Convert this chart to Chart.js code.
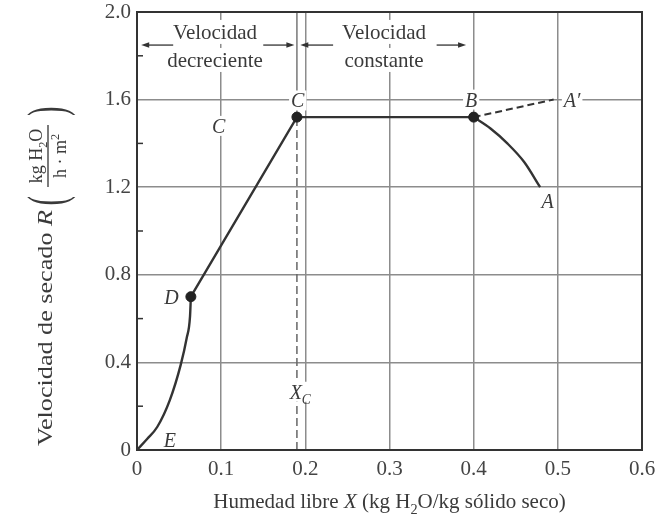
<!DOCTYPE html>
<html>
<head>
<meta charset="utf-8">
<script src="https://cdn.jsdelivr.net/npm/chart.js@4.4.1/dist/chart.umd.min.js"></script>
<style>
  html, body { margin: 0; padding: 0; background: #fff; }
  #wrap { width: 657px; height: 525px; }
</style>
</head>
<body>
<div id="wrap"><canvas id="chart" width="657" height="525"></canvas></div>
<script>
// valores
const xTicks = [0, 0.1, 0.2, 0.3, 0.4, 0.5, 0.6];
const yTicks = [0, 0.4, 0.8, 1.2, 1.6, 2.0];
const yMinor = [0.2, 0.6, 1.0, 1.4, 1.8];

// E -> D (curva, velocidad decreciente)
const curveEDx = [0, 0.012, 0.024, 0.039, 0.052, 0.059, 0.063, 0.064];
const curveEDy = [0, 0.05, 0.105, 0.228, 0.39, 0.51, 0.61, 0.70];
// D -> C -> B (rectas)
const lineDCBx = [0.064, 0.19, 0.40];
const lineDCBy = [0.70, 1.52, 1.52];
// B -> A (curva)
const curveBAx = [0.40, 0.42, 0.44, 0.46, 0.479];
const curveBAy = [1.52, 1.468, 1.40, 1.315, 1.20];
// B -> A' (discontinua)
const dashBAx = [0.40, 0.495];
const dashBAy = [1.52, 1.60];
// humedad critica
const xCritical = 0.19;
const rCritical = 1.52;
// puntos marcados C, B, D
const markX = [0.19, 0.40, 0.064];
const markY = [1.52, 1.52, 0.70];

const SERIF = '"Liberation Serif", "DejaVu Serif", serif';
const INK = '#333';
const TXT = '#3a3a3a';

const zip = (xs, ys) => xs.map((x, i) => ({x: x, y: ys[i]}));

// etiquetas (texto, posicion en unidades de datos)
const pointLabels = [
  {segs: [{t: 'C', it: 1}], x: 0.191, y: 1.596},
  {segs: [{t: 'C', it: 1}], x: 0.097, y: 1.48},
  {segs: [{t: 'B', it: 1}], x: 0.397, y: 1.60},
  {segs: [{t: 'A\u2032', it: 1}], x: 0.517, y: 1.598},
  {segs: [{t: 'A', it: 1}], x: 0.488, y: 1.135},
  {segs: [{t: 'D', it: 1}], x: 0.041, y: 0.70},
  {segs: [{t: 'E', it: 1}], x: 0.039, y: 0.046},
  {segs: [{t: 'X', it: 1}, {t: 'C', it: 1, sub: 1}], x: 0.194, y: 0.266}
];
const headers = [
  {lines: ['Velocidad', 'decreciente'], x: 0.0927},
  {lines: ['Velocidad', 'constante'], x: 0.2935}
];
const headerRows = [1.909, 1.781];
const arrowY = 1.849;
const arrows = [[0.043, 0.005], [0.150, 0.187], [0.233, 0.194], [0.356, 0.391]];

function segFont(s, size) {
  const sz = (s.sub || s.sup) ? size * 0.68 : size;
  return (s.it ? 'italic ' : '') + sz + 'px ' + SERIF;
}
function richWidth(ctx, segs, size) {
  let w = 0;
  segs.forEach(s => { ctx.font = segFont(s, size); w += ctx.measureText(s.t).width; });
  return w;
}
function drawRich(ctx, segs, x, y, size) {
  let cx = x;
  segs.forEach(s => {
    ctx.font = segFont(s, size);
    let dy = 0;
    if (s.sub) dy = size * 0.28;
    if (s.sup) dy = -size * 0.38;
    ctx.fillText(s.t, cx, y + dy);
    cx += ctx.measureText(s.t).width;
  });
}

const decor = {
  id: 'decor',
  beforeDraw(chart) {
    const ctx = chart.ctx;
    ctx.save();
    ctx.fillStyle = '#fff';
    ctx.fillRect(0, 0, chart.width, chart.height);
    ctx.restore();
  },
  afterDatasetsDraw(chart) {
    const {ctx, chartArea: a, scales: {x, y}} = chart;
    ctx.save();
    ctx.textBaseline = 'alphabetic';
    ctx.textAlign = 'left';

    // letras de los puntos
    pointLabels.forEach(l => {
      const size = 20;
      const w = richWidth(ctx, l.segs, size);
      const px = x.getPixelForValue(l.x), py = y.getPixelForValue(l.y);
      ctx.fillStyle = '#fff';
      ctx.fillRect(px - w / 2 - 2, py - 10, w + 4, 20);
      ctx.fillStyle = TXT;
      drawRich(ctx, l.segs, px - w / 2, py + 7, size);
    });

    // rotulos de las zonas
    ctx.font = '21px ' + SERIF;
    headers.forEach(h => {
      const px = x.getPixelForValue(h.x);
      h.lines.forEach((t, i) => {
        const py = y.getPixelForValue(headerRows[i]);
        const w = ctx.measureText(t).width;
        ctx.fillStyle = '#fff';
        ctx.fillRect(px - w / 2 - 4, py - 12, w + 8, 24);
        ctx.fillStyle = TXT;
        ctx.fillText(t, px - w / 2, py + 7);
      });
    });

    // flechas
    ctx.strokeStyle = INK;
    ctx.fillStyle = INK;
    ctx.lineWidth = 1.3;
    const ay = y.getPixelForValue(arrowY);
    arrows.forEach(([from, to]) => {
      const x0 = x.getPixelForValue(from), x1 = x.getPixelForValue(to);
      const dir = Math.sign(x1 - x0);
      ctx.beginPath();
      ctx.moveTo(x0, ay);
      ctx.lineTo(x1 - dir * 5, ay);
      ctx.stroke();
      ctx.beginPath();
      ctx.moveTo(x1, ay);
      ctx.lineTo(x1 - dir * 8, ay - 2.8);
      ctx.lineTo(x1 - dir * 8, ay + 2.8);
      ctx.closePath();
      ctx.fill();
    });

    // marcas menores del eje y
    ctx.lineWidth = 1.5;
    yMinor.forEach(v => {
      const py = y.getPixelForValue(v);
      ctx.beginPath();
      ctx.moveTo(a.left, py);
      ctx.lineTo(a.left + 6, py);
      ctx.stroke();
    });

    // marco
    ctx.lineWidth = 2;
    ctx.strokeRect(a.left, a.top, a.right - a.left, a.bottom - a.top);

    // titulo eje x
    ctx.fillStyle = TXT;
    const xt = [{t: 'Humedad libre '}, {t: 'X', it: 1}, {t: ' (kg H'}, {t: '2', sub: 1},
                {t: 'O/kg s\u00f3lido seco)'}];
    const xw = richWidth(ctx, xt, 21);
    drawRich(ctx, xt, (a.left + a.right) / 2 - xw / 2, 508, 21);

    // titulo eje y
    ctx.save();
    ctx.translate(52, 446);
    ctx.rotate(-Math.PI / 2);
    const yt = [{t: 'Velocidad de secado '}, {t: 'R', it: 1}];
    const yw = richWidth(ctx, yt, 21);
    const target = 236;
    ctx.save();
    ctx.scale(target / yw, 1);
    drawRich(ctx, yt, 0, 0, 21);
    ctx.restore();
    const fc = target + 54;
    const num = [{t: 'kg H'}, {t: '2', sub: 1}, {t: 'O'}];
    const den = [{t: 'h \u00b7 m'}, {t: '2', sup: 1}];
    const nw = richWidth(ctx, num, 18), dw = richWidth(ctx, den, 18);
    drawRich(ctx, num, fc - nw / 2, -10, 18);
    drawRich(ctx, den, fc - dw / 2, 14, 18);
    ctx.lineWidth = 1.3;
    ctx.beginPath();
    ctx.moveTo(fc - 31, -4);
    ctx.lineTo(fc + 31, -4);
    ctx.stroke();
    ctx.font = '52px ' + SERIF;
    ctx.save();
    ctx.translate(fc - 40, 12);
    ctx.scale(0.55, 1);
    ctx.fillText('(', -ctx.measureText('(').width, 0);
    ctx.restore();
    ctx.save();
    ctx.translate(fc + 40, 12);
    ctx.scale(0.55, 1);
    ctx.fillText(')', 0, 0);
    ctx.restore();
    ctx.restore();

    ctx.restore();
  }
};

const lineStyle = {showLine: true, pointRadius: 0, borderColor: INK, borderWidth: 2.4, fill: false};

new Chart(document.getElementById('chart'), {
  type: 'scatter',
  data: {
    datasets: [
      {data: zip(markX, markY), pointRadius: 5, pointBackgroundColor: '#222',
       pointBorderColor: '#222', showLine: false},
      Object.assign({}, lineStyle, {data: zip(curveEDx, curveEDy), cubicInterpolationMode: 'monotone'}),
      Object.assign({}, lineStyle, {data: zip(lineDCBx, lineDCBy), tension: 0}),
      Object.assign({}, lineStyle, {data: zip(curveBAx, curveBAy), cubicInterpolationMode: 'monotone'}),
      Object.assign({}, lineStyle, {data: zip(dashBAx, dashBAy), borderDash: [7, 4], borderWidth: 2}),
      Object.assign({}, lineStyle, {data: [{x: xCritical, y: 0}, {x: xCritical, y: rCritical}],
        borderDash: [8, 4], borderWidth: 1.5, borderColor: '#666'}),
      Object.assign({}, lineStyle, {data: [{x: xCritical, y: rCritical}, {x: xCritical, y: 2.0}],
        borderWidth: 1.5, borderColor: '#777'})
    ]
  },
  options: {
    responsive: false,
    animation: false,
    layout: {padding: {top: 12, right: 15, left: 0, bottom: 0}},
    plugins: {legend: {display: false}, tooltip: {enabled: false}},
    scales: {
      x: {
        type: 'linear',
        min: xTicks[0], max: xTicks[xTicks.length - 1],
        afterFit: s => { s.height = 75; s.paddingLeft = 0; s.paddingRight = 0; },
        afterBuildTicks: s => { s.ticks = xTicks.map(v => ({value: v})); },
        grid: {color: '#8c8c8c', lineWidth: 1.5, drawTicks: false},
        border: {color: INK, width: 2},
        ticks: {
          padding: 7, color: '#444', maxRotation: 0, autoSkip: false,
          font: {family: SERIF, size: 21},
          callback: v => v === 0 ? '0' : v.toFixed(1)
        }
      },
      y: {
        min: yTicks[0], max: yTicks[yTicks.length - 1],
        afterFit: s => { s.width = 137; s.paddingTop = 0; s.paddingBottom = 0; },
        afterBuildTicks: s => { s.ticks = yTicks.map(v => ({value: v})); },
        grid: {color: '#8c8c8c', lineWidth: 1.5, drawTicks: false},
        border: {color: INK, width: 2},
        ticks: {
          padding: 6, color: '#444',
          font: {family: SERIF, size: 21},
          callback: v => v === 0 ? '0' : v.toFixed(1)
        }
      }
    }
  },
  plugins: [decor]
});
</script>
</body>
</html>
